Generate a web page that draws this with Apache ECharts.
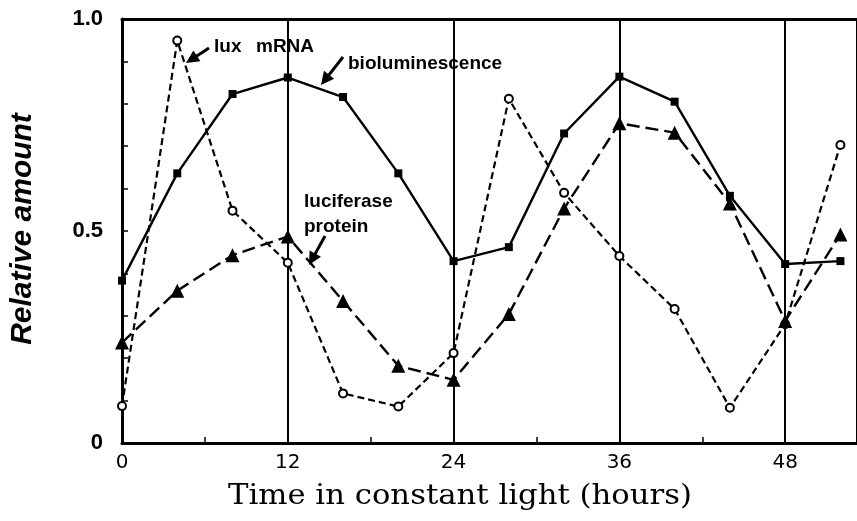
<!DOCTYPE html>
<html>
<head>
<meta charset="utf-8">
<script src="https://cdn.jsdelivr.net/npm/echarts@6/dist/echarts.min.js"></script>
<style>
html,body{margin:0;padding:0;background:#fff;}
#chart{width:857px;height:521px;}
</style>
</head>
<body>
<div id="chart"></div>
<script>
// ---- data ----
const hours = [0, 4, 8, 12, 16, 20, 24, 28, 32, 36, 40, 44, 48, 52];
const bioluminescence = [0.383, 0.636, 0.823, 0.862, 0.816, 0.636, 0.429, 0.462, 0.730, 0.864, 0.805, 0.583, 0.422, 0.429];
const luxMRNA = [0.087, 0.949, 0.548, 0.425, 0.117, 0.086, 0.212, 0.812, 0.590, 0.441, 0.316, 0.083, 0.280, 0.703];
const luciferaseProtein = [0.237, 0.359, 0.443, 0.487, 0.335, 0.182, 0.149, 0.304, 0.553, 0.754, 0.732, 0.565, 0.288, 0.492];
const xTickValues = [0, 12, 24, 36, 48];
const yTickLabels = { '0': '0', '0.5': '0.5', '1': '1.0' };
const xTitle = 'Time in constant light (hours)';
const yTitle = 'Relative amount';

const pairs = (ys) => hours.map((h, i) => [h, ys[i]]);

function arrow(tail, tip) {
  const dx = tip[0] - tail[0], dy = tip[1] - tail[1];
  const len = Math.sqrt(dx * dx + dy * dy);
  const ux = dx / len, uy = dy / len;
  const hl = 13, hw = 6.5;
  const bx = tip[0] - ux * hl, by = tip[1] - uy * hl;
  return [
    { type: 'line', shape: { x1: tail[0], y1: tail[1], x2: bx + ux * 2, y2: by + uy * 2 }, style: { stroke: '#000', lineWidth: 3 } },
    { type: 'polygon', shape: { points: [tip, [bx - uy * hw, by + ux * hw], [bx + uy * hw, by - ux * hw]] }, style: { fill: '#000' } }
  ];
}

// horizontal stretch so the serif axis title spans the same width as the reference
const xTitleFont = '27px "DejaVu Serif", serif';
const measureCtx = document.createElement('canvas').getContext('2d');
measureCtx.font = xTitleFont;
const xTitleScale = 464 / measureCtx.measureText(xTitle).width;

const chart = echarts.init(document.getElementById('chart'), null, { renderer: 'canvas' });
const annFont = 'bold 19px "Liberation Sans", Arial, sans-serif';

chart.setOption({
  animation: false,
  backgroundColor: '#fff',
  grid: { left: 122, right: 0, top: 19, bottom: 78, containLabel: false },
  xAxis: [{
    type: 'value', min: 0, max: 53.2, interval: 12,
    axisLine: { show: true, onZero: false, lineStyle: { color: '#000', width: 3 } },
    axisTick: { show: true, inside: true, length: 6, lineStyle: { color: '#000', width: 1.5 } },
    minorTick: { show: true, splitNumber: 2, length: 6, lineStyle: { color: '#000', width: 1.5 } },
    splitLine: { show: true, lineStyle: { color: '#000', width: 2 } },
    axisLabel: {
      show: true, margin: 10, color: '#000',
      fontFamily: '"DejaVu Sans", sans-serif', fontSize: 20,
      showMaxLabel: false,
      formatter: (v) => (xTickValues.indexOf(v) >= 0 ? String(v) : '')
    }
  }, {
    type: 'value', position: 'top', min: 0, max: 53.2,
    axisLine: { show: true, onZero: false, lineStyle: { color: '#000', width: 3 } },
    axisTick: { show: false }, axisLabel: { show: false }, splitLine: { show: false }
  }],
  yAxis: {
    type: 'value', min: 0, max: 1, interval: 0.5,
    axisLine: { show: true, onZero: false, lineStyle: { color: '#000', width: 3 } },
    axisTick: { show: true, inside: true, length: 6, lineStyle: { color: '#000', width: 1.5 } },
    minorTick: { show: true, splitNumber: 5, length: 6, lineStyle: { color: '#000', width: 1.5 } },
    splitLine: { show: false },
    axisLabel: {
      margin: 19, color: '#000',
      fontFamily: '"Liberation Sans", Arial, sans-serif', fontSize: 22, fontWeight: 'bold',
      formatter: (v) => yTickLabels[String(v)] || ''
    }
  },
  series: [
    {
      name: 'lux mRNA', type: 'line', data: pairs(luxMRNA), z: 3,
      symbol: 'emptyCircle', symbolSize: 8,
      lineStyle: { color: '#000', width: 2.2, type: [7, 4] },
      itemStyle: { color: '#000', borderColor: '#000', borderWidth: 1.8 }
    },
    {
      name: 'bioluminescence', type: 'line', data: pairs(bioluminescence), z: 4,
      symbol: 'rect', symbolSize: 8,
      lineStyle: { color: '#000', width: 2.4, type: 'solid' },
      itemStyle: { color: '#000' }
    },
    {
      name: 'luciferase protein', type: 'line', data: pairs(luciferaseProtein), z: 5,
      symbol: 'triangle', symbolSize: [14, 14],
      lineStyle: { color: '#000', width: 2.4, type: [13, 6] },
      itemStyle: { color: '#000' }
    }
  ],
  graphic: [
    { type: 'text', x: 23, y: 229, rotation: Math.PI / 2,
      style: { text: yTitle, font: 'italic bold 30px "Liberation Sans", Arial, sans-serif', fill: '#000', align: 'center', verticalAlign: 'middle' } },
    { type: 'text', x: 460, y: 497, scaleX: xTitleScale,
      style: { text: xTitle, font: xTitleFont, fill: '#000', align: 'center', verticalAlign: 'middle' } },
    { type: 'text', x: 214, y: 47, style: { text: 'lux', font: annFont, fill: '#000', verticalAlign: 'middle' } },
    { type: 'text', x: 256, y: 47, style: { text: 'mRNA', font: annFont, fill: '#000', verticalAlign: 'middle' } },
    { type: 'text', x: 348, y: 64, style: { text: 'bioluminescence', font: annFont, fill: '#000', verticalAlign: 'middle' } },
    { type: 'text', x: 304, y: 202, style: { text: 'luciferase', font: annFont, fill: '#000', verticalAlign: 'middle' } },
    { type: 'text', x: 304, y: 227, style: { text: 'protein', font: annFont, fill: '#000', verticalAlign: 'middle' } },
    ...arrow([209, 48], [186, 63]),
    ...arrow([343, 57], [321, 85]),
    ...arrow([325, 236], [309, 265])
  ]
});
</script>
</body>
</html>
